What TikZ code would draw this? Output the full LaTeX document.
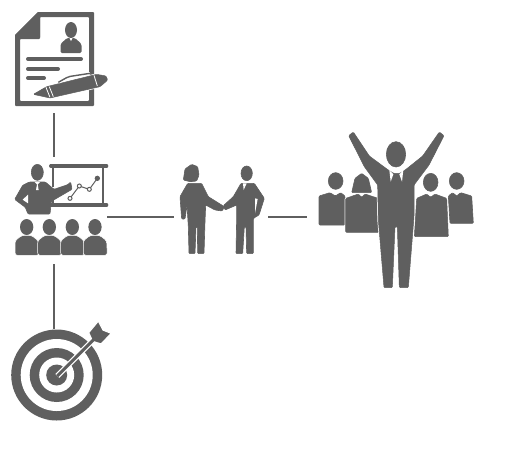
\documentclass[tikz,border=0pt]{standalone}
\definecolor{ink}{HTML}{5F5F5F}
\tikzset{
  px/.style={x=1pt,y=-1pt},
  zoomed/.style={x=0.33333pt,y=-0.33333pt},
  bold/.style={fill=ink,draw=ink,line width=0.6pt,rounded corners=1pt,line join=round},
  halo/.style={preaction={draw=white,line width=2pt},fill=ink,draw=ink,line width=0.5pt,rounded corners=1pt,line join=round},
  link/.style={draw=ink,line width=1.2pt},
  slot/.style={inner sep=0pt,outer sep=0pt,draw=none,fill=none},
  textline/.style={draw=ink,line width=4pt,line cap=round}
}
\begin{document}
\begin{tikzpicture}[px]
\useasboundingbox (0,0) rectangle (508,448);
% anchors for the connectors
\node[slot,minimum width=79pt,minimum height=100pt] (doc) at (54,63) {};
\node[slot,minimum width=106pt,minimum height=86pt] (presenter) at (54,200) {};
\node[slot,minimum width=106pt,minimum height=94pt] (audience) at (54,217) {};
\node[slot,minimum width=92pt,minimum height=92pt] (target) at (54,375) {};
\node[slot,minimum width=94pt,minimum height=100pt] (shake) at (221,217) {};
\node[slot,minimum width=160pt,minimum height=170pt] (team) at (387,217) {};
\draw[link] (doc.south) -- (presenter.north);
\draw[link] (audience.south) -- (target.north);
\draw[link] (audience.east) -- (shake.west);
\draw[link] (shake.east) -- (team.west);

% document
\fill[ink,even odd rule,rounded corners=0.8pt] (38,12) -- (94,12) -- (94,106) -- (15,106) -- (15,35) -- cycle
  (40,17) -- (89,17) -- (89,101) -- (20,101) -- (20,39) -- (40,39) -- cycle;
\fill[ink] (38,12) -- (40,12) -- (40,37) -- (15,37) -- (15,35) -- cycle;
\fill[ink] (71,30) ellipse (6 and 8);
\fill[ink,rounded corners=1.5pt] (60.5,53) -- (60.5,44) -- (67,38) -- (75,38) -- (81.5,44) -- (81.5,53) -- cycle;
\fill[white] (69.5,38) -- (72.5,38) -- (71,41) -- cycle;
\draw[textline] (28,59) -- (81,59);
\draw[textline] (28,69) -- (58,69);
\draw[textline] (28,78) -- (44,78);
\begin{scope}[zoomed]
\path[halo] (100,283) -- (140,260) -- (290,223) -- (318,228) -- (323,240) -- (312,250) -- (300,260) -- (150,294) -- cycle;
\draw[white,line width=0.8pt] (138,262) -- (150,292);
\draw[white,line width=0.8pt] (148,260) -- (160,290);
\draw[white,line width=0.8pt] (282,226) -- (292,258);
\path[draw=white,line width=2.6pt] (175,247) -- (205,230) -- (270,220);
\draw[ink,line width=1.4pt,rounded corners=2pt] (175,247) -- (205,230) -- (270,220);
\end{scope}

% presenter
\begin{scope}[shift={(0,150)},zoomed]
\draw[ink,line width=2.2pt] (160,48) -- (160,112);
\draw[ink,line width=2.2pt] (160,150) -- (160,165);
\draw[ink,line width=2.2pt] (310,48) -- (310,165);
\draw[ink,line width=3.2pt,line cap=round] (152,48) -- (320,48);
\draw[ink,line width=3.2pt,line cap=round] (152,165) -- (320,165);
\draw[ink,line width=1pt] (210,145) -- (238,108) -- (268,118) -- (292,85);
\fill[ink] (292,85) circle (8);
\foreach \p in {(210,145),(238,108),(268,118)} {\path[draw=ink,fill=white,line width=1pt] \p circle (6);}
\path[bold] (112,67) ellipse (18 and 24);
\path[bold] (88,96) -- (68,106) -- (44,148) -- (76,172) -- (84,192) -- (150,192) -- (154,154) -- (216,118) -- (212,96) -- (203,104) -- (162,118) -- (136,96) -- cycle;
\fill[white] (68,149) -- (84,134) -- (84,160) -- cycle;
\fill[white] (104,96) -- (120,96) -- (113,103) -- (116,120) -- (108,120) -- (111,103) -- cycle;
% audience
\foreach \cx in {80,148,217,285} {
  \fill[ink] (\cx,231) ellipse (20 and 24);
  \path[fill=ink,draw=white,line width=0.5pt,rounded corners=2.5pt] (\cx-35,316) -- (\cx-35,272) -- (\cx-14,256) -- (\cx+14,256) -- (\cx+35,272) -- (\cx+37,316) -- cycle;
}
\end{scope}

% target
\fill[ink] (56.7,375) circle (45.5);
\fill[white] (56.7,375) circle (36);
\fill[ink] (56.7,375) circle (27);
\fill[white] (56.7,375) circle (17.5);
\fill[ink] (56.7,375) circle (10.5);
\begin{scope}[shift={(0,310)},zoomed]
\draw[white,line width=5.5pt] (172,198) -- (285,85);
\path[fill=ink,draw=white,line width=1.2pt] (266,68) -- (295,33) -- (309,60) -- (334,70) -- (303,102) -- (278,94) -- cycle;
\draw[ink,line width=3pt] (172,198) -- (285,85);
\end{scope}

% handshake
\begin{scope}[shift={(165,155)},zoomed]
\path[bold] (55,75) -- (60,42) -- (80,28) -- (98,35) -- (102,60) -- (95,78) -- (75,80) -- cycle;
\path[bold] (68,85) -- (45,125) -- (50,192) -- (60,192) -- (66,150) -- (70,215) -- (72,296) -- (90,296) -- (93,215) -- (97,215) -- (98,296) -- (117,296) -- (120,200) -- (122,150) -- (150,165) -- (172,168) -- (178,155) -- (130,125) -- (110,85) -- cycle;
\path[bold] (245,55) ellipse (17 and 22);
\path[bold] (228,85) -- (205,125) -- (175,152) -- (180,165) -- (215,150) -- (215,190) -- (213,296) -- (233,296) -- (238,215) -- (243,215) -- (245,296) -- (265,296) -- (265,190) -- (282,180) -- (298,130) -- (268,85) -- cycle;
\fill[white] (270,130) -- (278,132) -- (270,175) -- cycle;
\fill[white] (234,85) -- (245,85) -- (236,105) -- cycle;
\end{scope}

% team
\begin{scope}[shift={(310,120)},zoomed]
\path[bold] (77,183) ellipse (22 and 25);
\path[bold] (27,228) -- (60,218) -- (76,228) -- (92,218) -- (105,228) -- (105,315) -- (27,315) -- cycle;
\path[bold] (125,218) -- (135,175) -- (155,160) -- (175,175) -- (185,218) -- cycle;
\path[halo] (107,235) -- (145,222) -- (155,232) -- (165,222) -- (205,235) -- (207,337) -- (107,337) -- cycle;
\path[bold] (440,183) ellipse (22 and 25);
\path[bold] (415,228) -- (428,218) -- (440,228) -- (452,218) -- (485,228) -- (490,310) -- (420,310) -- cycle;
\path[bold] (362,187) ellipse (22 and 27);
\path[halo] (320,235) -- (350,222) -- (362,232) -- (375,222) -- (410,235) -- (415,350) -- (313,350) -- cycle;
\path[bold] (258,103) ellipse (29 and 38);
\path[halo] (116,47) -- (130,36) -- (178,108) -- (232,148) -- (250,160) -- (270,160) -- (288,148) -- (338,108) -- (388,36) -- (402,47) -- (357,135) -- (312,195) -- (312,290) -- (295,503) -- (268,503) -- (262,320) -- (255,320) -- (247,503) -- (222,503) -- (205,300) -- (203,195) -- (163,140) -- cycle;
\fill[white] (238,150) -- (250,163) -- (242,185) -- cycle;
\fill[white] (280,150) -- (268,163) -- (276,185) -- cycle;
\end{scope}
\end{tikzpicture}
\end{document}
